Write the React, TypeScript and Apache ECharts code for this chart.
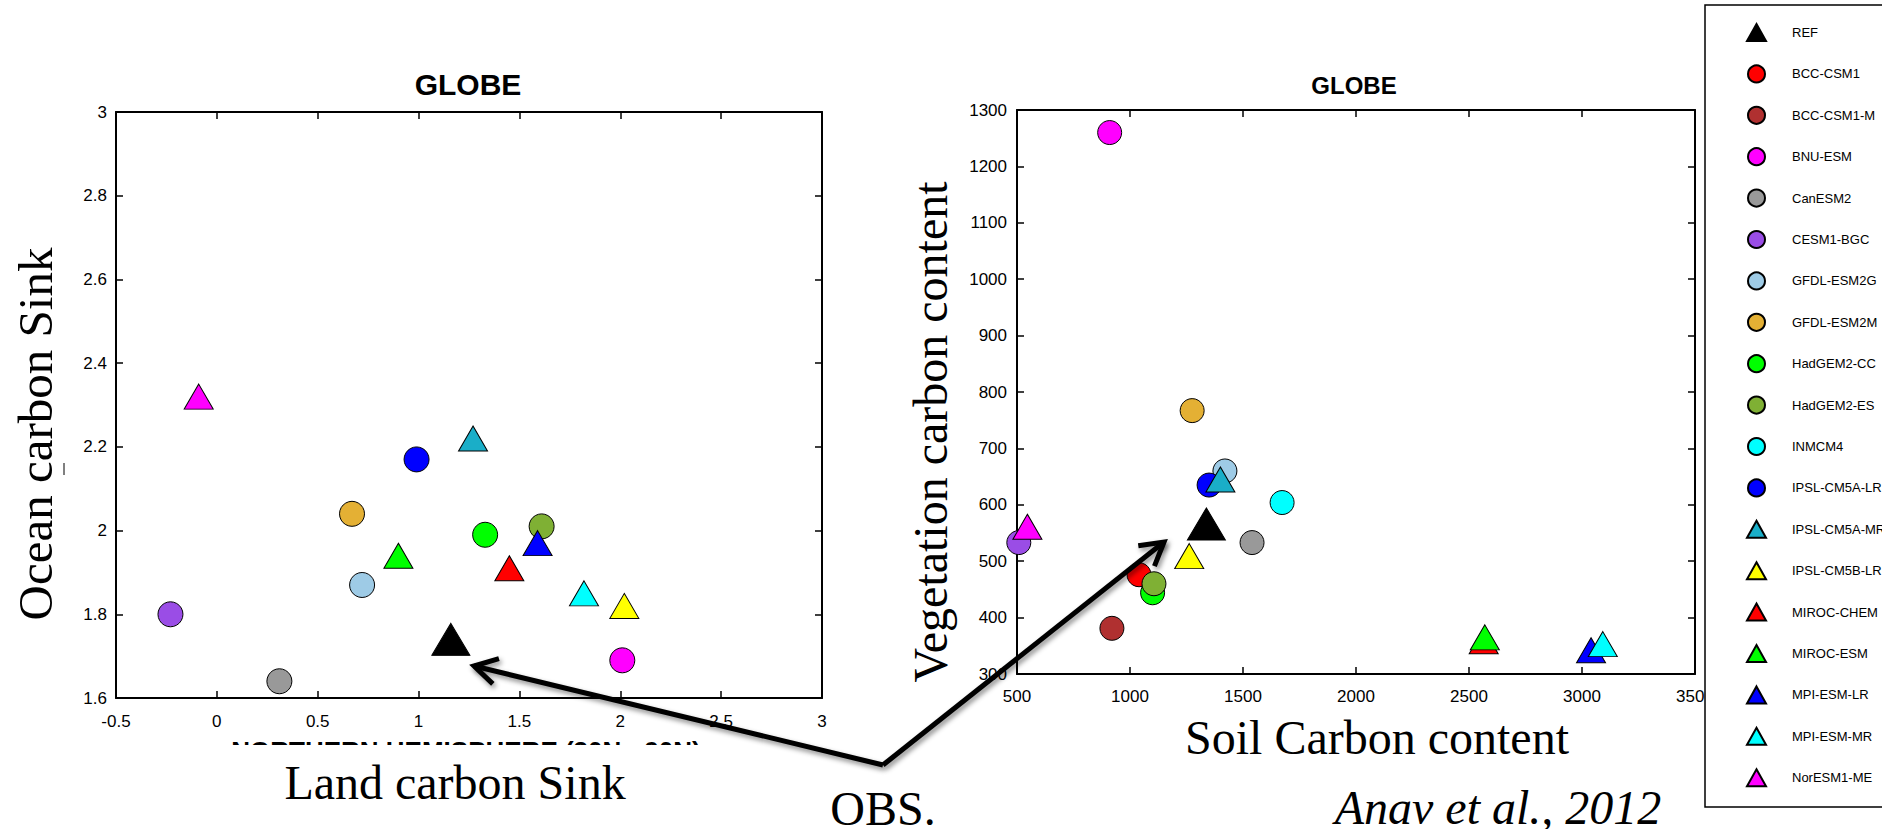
import React, { useEffect, useRef } from 'react';
import * as echarts from 'echarts';

// ---------- data ----------
const models = [
  'REF', 'BCC-CSM1', 'BCC-CSM1-M', 'BNU-ESM', 'CanESM2', 'CESM1-BGC', 'GFDL-ESM2G', 'GFDL-ESM2M',
  'HadGEM2-CC', 'HadGEM2-ES', 'INMCM4', 'IPSL-CM5A-LR', 'IPSL-CM5A-MR', 'IPSL-CM5B-LR',
  'MIROC-CHEM', 'MIROC-ESM', 'MPI-ESM-LR', 'MPI-ESM-MR', 'NorESM1-ME',
];
const colors = [
  '#000000', '#ff0000', '#b03030', '#ff00ff', '#999999', '#9a4de6', '#9ecbe6', '#e4b034',
  '#00ff00', '#7fb034', '#00ffff', '#0000ff', '#1aaec8', '#ffff00',
  '#ff0000', '#00ff00', '#0000ff', '#00ffff', '#ff00ff',
];
const shapes = [
  'triangle', 'circle', 'circle', 'circle', 'circle', 'circle', 'circle', 'circle',
  'circle', 'circle', 'circle', 'circle', 'triangle', 'triangle',
  'triangle', 'triangle', 'triangle', 'triangle', 'triangle',
];
// Left panel: land carbon sink (x) vs ocean carbon sink (y)
const landSink = [1.16, null, null, 2.01, 0.31, -0.23, 0.72, 0.67, 1.33, 1.61, null, 0.99, 1.27, 2.02, 1.45, 0.9, 1.59, 1.82, -0.09];
const oceanSink = [1.74, null, null, 1.69, 1.64, 1.8, 1.87, 2.04, 1.99, 2.01, null, 2.17, 2.22, 1.82, 1.91, 1.94, 1.97, 1.85, 2.32];
// Right panel: soil carbon (x) vs vegetation carbon (y)
const soilCarbon = [1338, 1040, 920, 910, 1540, 508, 1420, 1275, 1100, 1106, 1673, 1350, 1400, 1262, 2565, 2570, 3040, 3092, 546];
const vegCarbon = [566, 476, 381, 1260, 533, 533, 660, 767, 444, 460, 604, 635, 645, 509, 358, 365, 342, 353, 561];

const leftX = { min: -0.5, max: 3, interval: 0.5 };
const leftY = { min: 1.6, max: 3, interval: 0.2 };
const rightX = { min: 500, max: 3500, interval: 500 };
const rightY = { min: 300, max: 1300, interval: 100 };

const SANS = "'Liberation Sans', Arial, Helvetica, sans-serif";
const SERIF = "'Liberation Serif', 'Times New Roman', serif";

function axis(r: { min: number; max: number; interval: number }, position: string, labels: boolean, gridIndex: number, margin: number) {
  return {
    type: 'value',
    gridIndex,
    position,
    min: r.min,
    max: r.max,
    interval: r.interval,
    axisLine: { show: true, onZero: false, lineStyle: { color: '#000', width: 2 } },
    axisTick: { show: true, inside: true, length: 7, lineStyle: { color: '#000', width: 1.5 } },
    axisLabel: {
      show: labels, color: '#000', fontSize: 17, fontFamily: SANS, margin,
      formatter: (v: number) => String(Math.round(v * 1000) / 1000),
    },
    splitLine: { show: false },
  };
}

function symSize(i: number, left: boolean) {
  if (i === 0) return [38, 32];
  if (shapes[i] === 'triangle') return [29, 25];
  return left ? 25 : 24;
}

function buildSeries() {
  const s: any[] = [];
  models.forEach((name, i) => {
    const style = { color: colors[i], borderColor: '#000', borderWidth: 1, opacity: 1 };
    const lx = landSink[i];
    const ly = oceanSink[i];
    s.push({
      type: 'scatter', name, xAxisIndex: 0, yAxisIndex: 0,
      symbol: shapes[i], symbolSize: symSize(i, true), itemStyle: style,
      data: lx === null || ly === null ? [] : [[lx, ly]],
      z: 2 + i * 0.01,
    });
    s.push({
      type: 'scatter', name, xAxisIndex: 2, yAxisIndex: 2,
      symbol: shapes[i], symbolSize: symSize(i, false), itemStyle: style,
      data: [[soilCarbon[i], vegCarbon[i]]],
      z: 2 + i * 0.01,
    });
  });
  return s;
}

function arrow(sx: number, sy: number, tx: number, ty: number) {
  const shadow = { shadowBlur: 5, shadowColor: 'rgba(0,0,0,0.45)', shadowOffsetX: 2, shadowOffsetY: 3 };
  const ang = Math.atan2(sy - ty, sx - tx);
  const L = 26;
  const a1 = ang - Math.PI / 6;
  const a2 = ang + Math.PI / 6;
  return [
    { type: 'line', z: 10, shape: { x1: sx, y1: sy, x2: tx, y2: ty }, style: { stroke: '#000', lineWidth: 5, ...shadow } },
    {
      type: 'polyline', z: 10,
      shape: { points: [[tx + L * Math.cos(a1), ty + L * Math.sin(a1)], [tx, ty], [tx + L * Math.cos(a2), ty + L * Math.sin(a2)]] },
      style: { stroke: '#000', lineWidth: 5, fill: null, lineJoin: 'miter', ...shadow },
    },
  ];
}

function buildOption() {
  const text = (x: number, y: number, t: string, font: any, extra: any = {}) => ({
    type: 'text', x, y, z: 9, ...extra,
    style: { text: t, fill: '#000', align: 'center', verticalAlign: 'middle', ...font },
  });
  return {
    animation: false,
    backgroundColor: '#ffffff',
    grid: [
      { left: 116, top: 112, width: 706, height: 586 },
      { left: 1017, top: 110, width: 678, height: 564 },
    ],
    xAxis: [
      axis(leftX, 'bottom', true, 0, 15),
      axis(leftX, 'top', false, 0, 8),
      axis(rightX, 'bottom', true, 1, 14),
      axis(rightX, 'top', false, 1, 8),
    ],
    yAxis: [
      axis(leftY, 'left', true, 0, 9),
      axis(leftY, 'right', false, 0, 8),
      axis(rightY, 'left', true, 1, 10),
      axis(rightY, 'right', false, 1, 8),
    ],
    legend: {
      orient: 'vertical',
      left: 1741,
      top: 18,
      itemWidth: 19,
      itemHeight: 17,
      itemGap: 22.4,
      selectedMode: false,
      z: 6,
      textStyle: { color: '#000', fontSize: 13, lineHeight: 17, fontFamily: SANS, padding: [0, 0, 0, 21] },
      data: models,
    },
    series: buildSeries(),
    graphic: [
      // legend frame (extends beyond the right edge)
      { type: 'rect', z: 5, shape: { x: 1705, y: 5, width: 300, height: 802 }, style: { fill: '#fff', stroke: '#000', lineWidth: 1.5 } },
      // titles
      text(468, 84, 'GLOBE', { fontSize: 30, fontWeight: 'bold', fontFamily: SANS }),
      text(1354, 85, 'GLOBE', { fontSize: 24, fontWeight: 'bold', fontFamily: SANS }),
      // partially hidden sub-label
      text(466, 751, 'NORTHERN HEMISPHERE (30N - 90N)', { fontSize: 26, fontWeight: 'bold', fontFamily: SANS }),
      { type: 'rect', z: 9, shape: { x: 150, y: 745, width: 640, height: 22 }, style: { fill: '#fff' } },
      { type: 'line', z: 9, shape: { x1: 64, y1: 463, x2: 64, y2: 475 }, style: { stroke: '#000', lineWidth: 1 } },
      // axis names
      text(35, 434, 'Ocean carbon Sink', { fontSize: 49, fontFamily: SERIF }, { rotation: Math.PI / 2 }),
      text(930, 432, 'Vegetation carbon content', { fontSize: 48, fontFamily: SERIF }, { rotation: Math.PI / 2 }),
      text(455, 782, 'Land carbon Sink', { fontSize: 48, fontFamily: SERIF }),
      text(1377, 737, 'Soil Carbon content', { fontSize: 48, fontFamily: SERIF }),
      text(883, 808, 'OBS.', { fontSize: 48, fontFamily: SERIF }),
      text(1498, 807, 'Anav et al., 2012', { fontSize: 48, fontFamily: SERIF, fontStyle: 'italic' }),
      // arrows from OBS. to the reference points
      ...arrow(883, 765, 474, 666),
      ...arrow(883, 765, 1164, 542),
    ],
  };
}

export default function App() {
  const ref = useRef<HTMLDivElement>(null);
  useEffect(() => {
    if (!ref.current) return;
    const chart = echarts.init(ref.current, null, { renderer: 'svg' });
    chart.setOption(buildOption() as any);
    return () => chart.dispose();
  }, []);
  return (
    <div
      ref={ref}
      style={{ position: 'fixed', left: 0, top: 0, width: 1882, height: 829, background: '#fff' }}
    />
  );
}
